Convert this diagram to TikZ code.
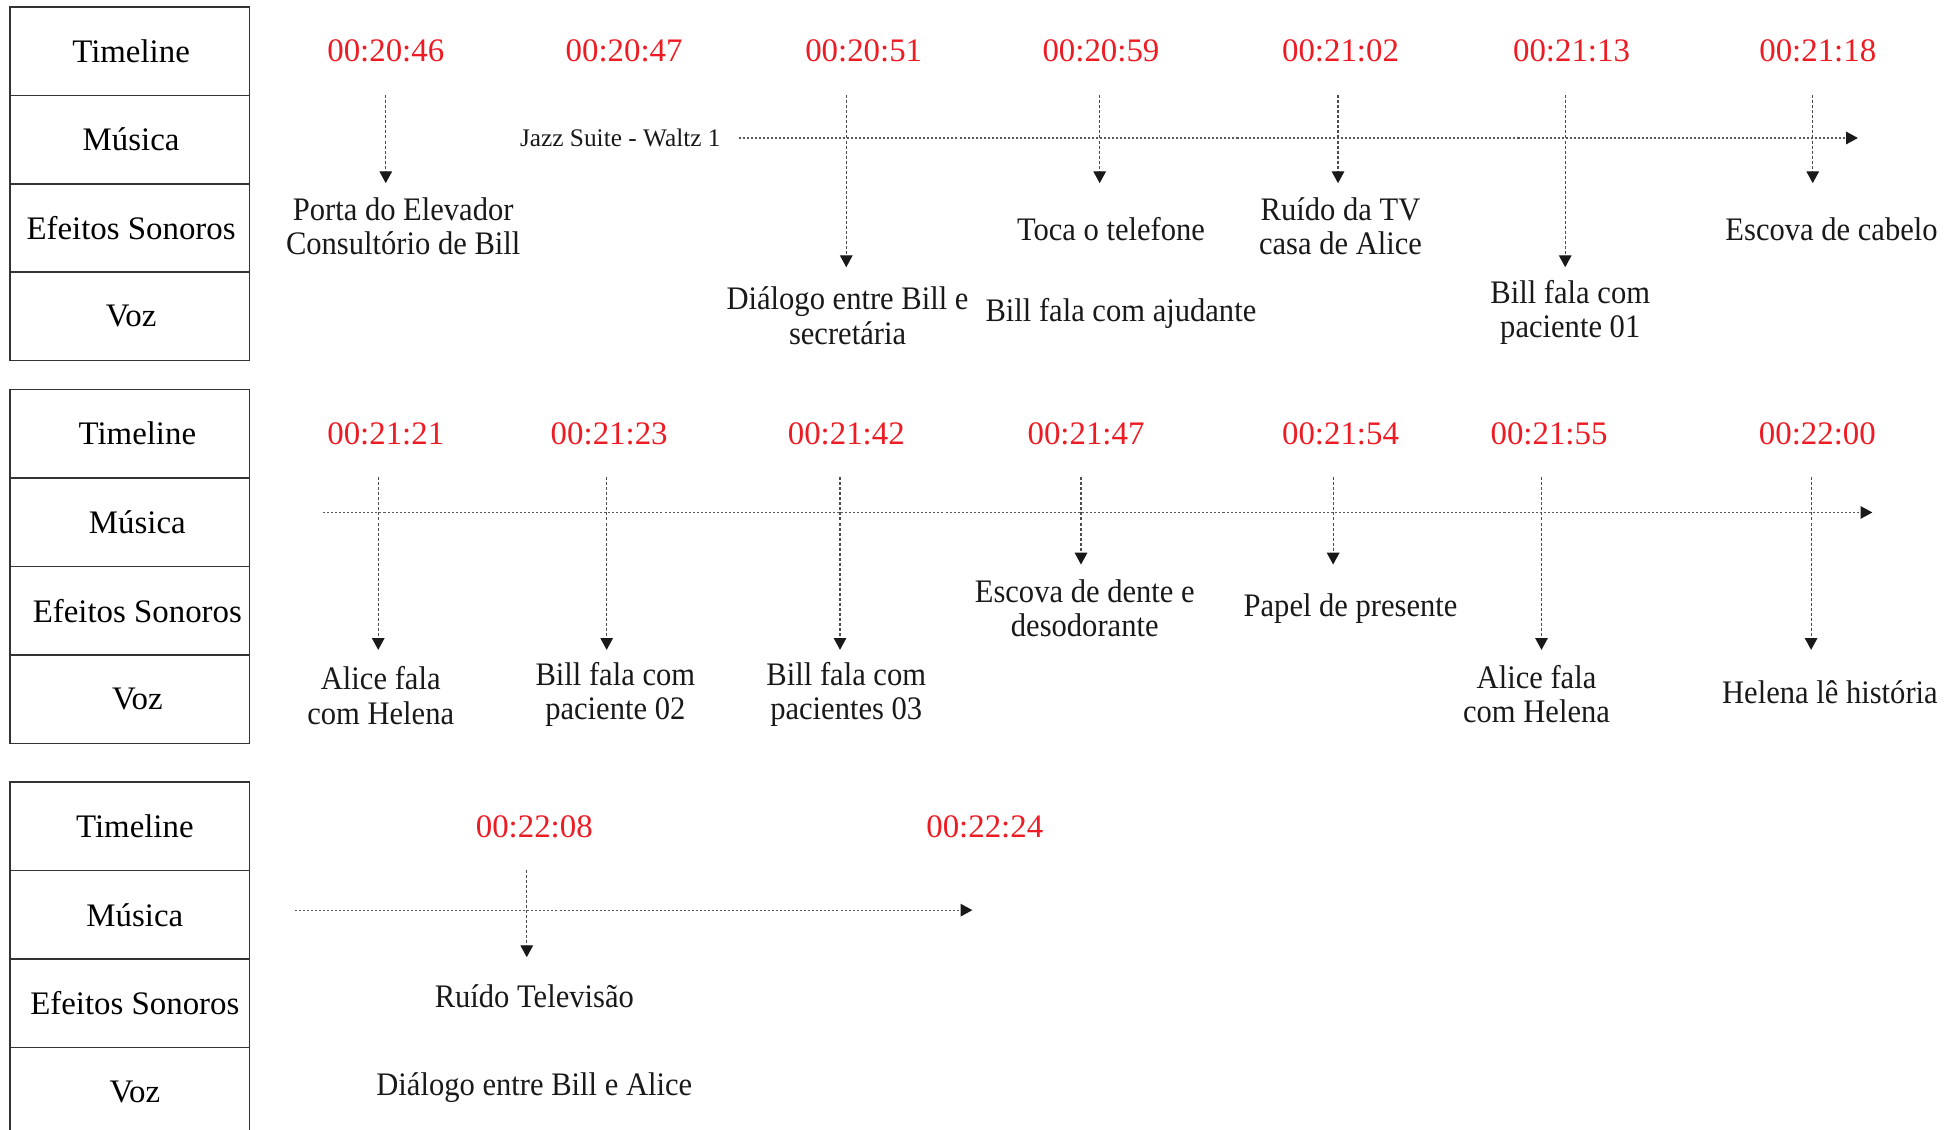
\documentclass[tikz,border=0pt]{standalone}
\usepackage{fontspec}
\setmainfont{Liberation Serif}
\newfontfamily\evtfont[FakeStretch=0.93]{Liberation Serif}
\usetikzlibrary{arrows.meta}
\definecolor{tsred}{RGB}{237,28,36}
\tikzset{
 base/.style={font=\fontsize{13.1}{13.6}\selectfont, inner sep=0pt, align=center},
 rowcell/.style={base, draw=black!80, line width=0.6pt, minimum width=95.5pt, minimum height=35.25pt},
 stamp/.style={base, text=tsred},
 evt/.style={base, font=\evtfont\fontsize{13.1}{13.6}\selectfont, text=black!90},
 small/.style={inner sep=0pt, font=\fontsize{10.1}{12}\selectfont, text=black!90},
 tip/.style={-{Triangle[length=4.7pt,width=5pt,color=black!90]}},
 varrow/.style={tip, draw=black!70, line width=0.45pt, dash pattern=on 1.2pt off 0.8pt},
 harrow/.style={tip, draw=black!65, line width=0.5pt, dash pattern=on 0.8pt off 0.8pt},
}
\begin{document}
\begin{tikzpicture}[x=0.5pt,y=-0.5pt]
\useasboundingbox (0,0) rectangle (1560,900);
% row label boxes
\foreach \p/\t/\s in {1/5.5/1, 2/310.5/6, 3/623.5/4} {
  \node[rowcell] (tl\p) at (103.5,{\t+35.25}) {\hspace*{\s pt}Timeline};
  \node[rowcell] (mu\p) at (103.5,{\t+105.75}) {\hspace*{\s pt}Música};
  \node[rowcell] (ef\p) at (103.5,{\t+176.25}) {\hspace*{\s pt}Efeitos Sonoros};
  \node[rowcell] (vo\p) at (103.5,{\t+246.75}) {\hspace*{\s pt}Voz};
}
% ---------- panel 1 ----------
\node[stamp] (s11) at (307.5,40.75) {00:20:46};
\node[stamp] (s12) at (497.5,40.75) {00:20:47};
\node[stamp] (s13) at (688.5,40.75) {00:20:51};
\node[stamp] (s14) at (877.6,40.75) {00:20:59};
\node[stamp] (s15) at (1068.6,40.75) {00:21:02};
\node[stamp] (s16) at (1252.7,40.75) {00:21:13};
\node[stamp] (s17) at (1449,40.75) {00:21:18};
\node[small] (jazz) at (494.5,110) {Jazz Suite - Waltz 1};
\coordinate (m1e) at (1481,110);
\draw[harrow, shorten <=7pt] (jazz.east) -- (m1e);
\foreach \n/\x/\yb in {1/307.5/146, 2/674.6/213, 3/876.6/146, 4/1066.6/146, 5/1247.7/213, 6/1445/146} {
  \draw[varrow] (\x,76) coordinate (p1v\n s) -- (\x,\yb) coordinate (p1v\n e);
}
\node[evt] (e11) at (321.4,180.5) {Porta do Elevador\\Consultório de Bill};
\node[evt] (e12) at (675.6,251.7) {Diálogo entre Bill e\\secretária};
\node[evt] (e13) at (885.6,182.5) {Toca o telefone};
\node[evt] (e14) at (893.5,249.7) {Bill fala com ajudante};
\node[evt] (e15) at (1068.6,180.5) {Ruído da TV\\casa de Alice};
\node[evt] (e16) at (1251.7,248.7) {Bill fala com\\paciente 01};
\node[evt] (e17) at (1460,183) {Escova de cabelo};
% ---------- panel 2 ----------
\node[stamp] (s21) at (307.5,345.75) {00:21:21};
\node[stamp] (s22) at (485.6,345.75) {00:21:23};
\node[stamp] (s23) at (674.6,345.75) {00:21:42};
\node[stamp] (s24) at (865.7,345.75) {00:21:47};
\node[stamp] (s25) at (1068.6,345.75) {00:21:54};
\node[stamp] (s26) at (1234.8,345.75) {00:21:55};
\node[stamp] (s27) at (1448.7,345.75) {00:22:00};
\coordinate (m2s) at (257.7,408.5);
\coordinate (m2e) at (1492.5,408.5);
\draw[harrow] (m2s) -- (m2e);
\foreach \n/\x/\yb in {1/301.5/518, 2/483.6/518, 3/669.6/518, 4/861.7/450, 5/1062.7/450, 6/1228.8/518, 7/1443.7/518} {
  \draw[varrow] (\x,380.5) coordinate (p2v\n s) -- (\x,\yb) coordinate (p2v\n e);
}
\node[evt] (e21) at (303.5,554.5) {Alice fala\\com Helena};
\node[evt] (e22) at (490.5,553.5) {Bill fala com\\paciente 02};
\node[evt] (e23) at (674.6,553.5) {Bill fala com\\pacientes 03};
\node[evt] (e24) at (864.7,485) {Escova de dente e\\desodorante};
\node[evt] (e25) at (1076.6,485) {Papel de presente};
\node[evt] (e26) at (1224.8,553.5) {Alice fala\\com Helena};
\node[evt] (e27) at (1458.7,551.5) {Helena lê história};
% ---------- panel 3 ----------
\node[stamp] (s31) at (425.9,658.75) {00:22:08};
\node[stamp] (s32) at (785,658.75) {00:22:24};
\coordinate (m3s) at (234.8,725.5);
\coordinate (m3e) at (775.1,725.5);
\draw[harrow] (m3s) -- (m3e);
\draw[varrow] (419.9,693.5) coordinate (p3v1s) -- (419.9,763) coordinate (p3v1e);
\node[evt] (e31) at (425.9,794.5) {Ruído Televisão};
\node[evt] (e32) at (425.9,867) {Diálogo entre Bill e Alice};
\end{tikzpicture}
\end{document}
